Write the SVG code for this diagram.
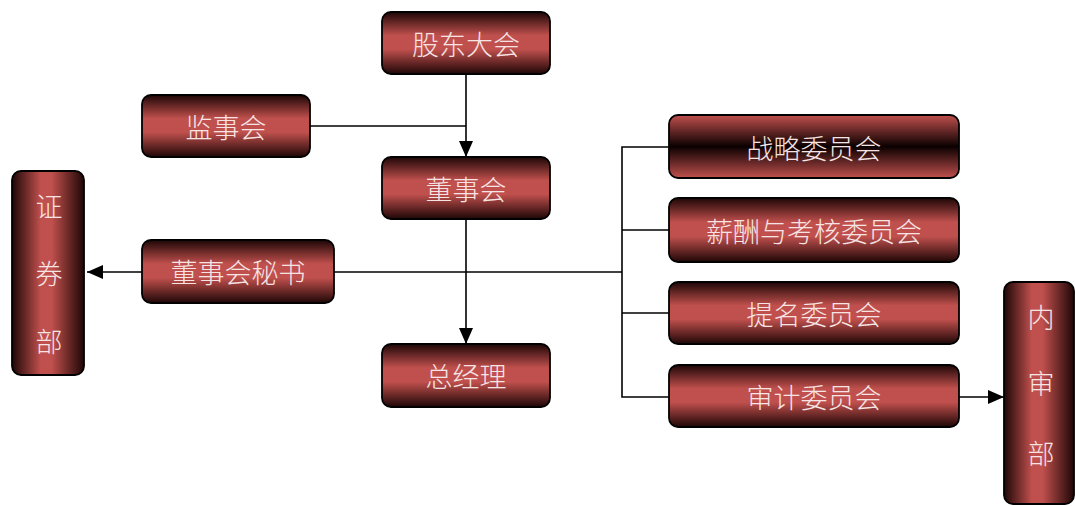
<svg xmlns="http://www.w3.org/2000/svg" width="1075" height="506" viewBox="0 0 1075 506">
<defs>
<linearGradient id="gv" x1="0" y1="0" x2="0" y2="1">
<stop offset="0" stop-color="#1e0606"/>
<stop offset="0.38" stop-color="#c0504d"/>
<stop offset="0.6" stop-color="#c0504d"/>
<stop offset="1" stop-color="#1e0606"/>
</linearGradient>
<linearGradient id="gi" x1="0" y1="0" x2="0" y2="1">
<stop offset="0" stop-color="#c0504d"/>
<stop offset="0.5" stop-color="#0a0000"/>
<stop offset="1" stop-color="#c0504d"/>
</linearGradient>
<linearGradient id="gh" x1="0" y1="0" x2="1" y2="0">
<stop offset="0" stop-color="#1e0606"/>
<stop offset="0.4" stop-color="#c0504d"/>
<stop offset="0.55" stop-color="#c0504d"/>
<stop offset="1" stop-color="#1e0606"/>
</linearGradient>
<marker id="arrL" viewBox="0 0 16 14" refX="16" refY="7" markerWidth="16" markerHeight="14" markerUnits="userSpaceOnUse" orient="auto">
<path d="M0,0 L16,7 L0,14 z" fill="#000"/>
</marker>
</defs>
<style>
.b{fill:url(#gv);stroke:#000;stroke-width:1.8}
.bi{fill:url(#gi);stroke:#000;stroke-width:1.8}
.bh{fill:url(#gh);stroke:#000;stroke-width:1.8}
.t{font-family:"Noto Sans CJK SC","Noto Sans",sans-serif;font-size:27px;font-weight:300;fill:#f6e4e4;text-anchor:middle;dominant-baseline:central}
.c{fill:none;stroke:#000;stroke-width:1.6}
</style>
<g id="connectors">
<path class="c" d="M466,73 V157" marker-end="url(#arrL)"/>
<path class="c" d="M310,126 H466"/>
<path class="c" d="M466,219 V344" marker-end="url(#arrL)"/>
<path class="c" d="M334,272 H622"/>
<path class="c" d="M142,272 H87" marker-end="url(#arrL)"/>
<path class="c" d="M669,147 H622 V397 H669"/>
<path class="c" d="M622,230 H669"/>
<path class="c" d="M622,313 H669"/>
<path class="c" d="M959,397 H1004" marker-end="url(#arrL)"/>
</g>
<g id="gudong"><rect class="b" x="382" y="12" width="168" height="62" rx="9"/><text class="t" x="466" y="43">股东大会</text></g>
<g id="jianshi"><rect class="b" x="142" y="95" width="168" height="62" rx="9"/><text class="t" x="226" y="126">监事会</text></g>
<g id="dongshi"><rect class="b" x="382" y="157" width="168" height="62" rx="9"/><text class="t" x="466" y="188">董事会</text></g>
<g id="mishu"><rect class="b" x="142" y="240" width="192" height="63" rx="9"/><text class="t" x="238" y="271">董事会秘书</text></g>
<g id="zongjingli"><rect class="b" x="382" y="344" width="168" height="63" rx="9"/><text class="t" x="466" y="375">总经理</text></g>
<g id="zhengquan"><rect class="bh" x="12" y="171" width="72" height="204" rx="9"/><text class="t" x="49" y="205">证</text><text class="t" x="49" y="272">券</text><text class="t" x="49" y="340">部</text></g>
<g id="zhanlue"><rect class="bi" x="669" y="115" width="290" height="63" rx="9"/><text class="t" x="814" y="147">战略委员会</text></g>
<g id="xinchou"><rect class="b" x="669" y="198" width="290" height="64" rx="9"/><text class="t" x="814" y="230">薪酬与考核委员会</text></g>
<g id="timing"><rect class="b" x="669" y="282" width="290" height="62" rx="9"/><text class="t" x="814" y="313">提名委员会</text></g>
<g id="shenji"><rect class="b" x="669" y="365" width="290" height="62" rx="9"/><text class="t" x="814" y="396">审计委员会</text></g>
<g id="neishen"><rect class="bh" x="1004" y="282" width="70" height="222" rx="9"/><text class="t" x="1041" y="316">内</text><text class="t" x="1041" y="382">审</text><text class="t" x="1041" y="452">部</text></g>
</svg>
